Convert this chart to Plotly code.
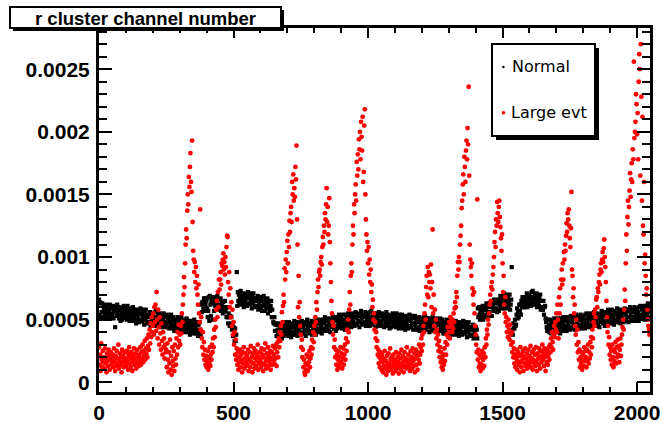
import plotly.graph_objects as go

# ---------------- data (values in units of 1e-5) ----------------
channels = list(range(0, 2048, 2))

normal_e5 = [
    66,54,64,52,63,56,63,56,52,59,61,54,57,62,51,59,55,61,52,57,62,51,59,55,53,
    54,61,51,57,59,44,60,56,53,62,55,58,51,60,53,49,58,56,50,59,54,61,52,57,51,
    59,54,50,61,52,57,55,49,59,52,57,50,55,60,49,53,58,50,55,47,58,53,51,56,49,
    48,55,59,50,54,49,58,52,55,46,56,50,58,52,48,54,47,54,52,48,56,45,55,50,53,
    54,47,52,45,56,49,57,50,45,52,54,47,50,55,44,52,48,53,45,50,55,44,52,48,46,
    47,54,44,50,52,43,52,48,45,54,47,50,43,52,45,41,50,48,42,50,45,52,43,48,42,
    50,45,41,52,43,48,46,40,50,43,48,41,46,51,40,44,49,41,46,38,49,44,42,47,40,
    39,46,50,41,44,39,48,42,46,37,46,40,48,42,38,62,56,64,63,59,67,57,67,62,65,
    66,59,52,57,68,49,69,62,53,65,67,50,63,68,57,65,61,67,59,64,69,58,66,62,60,
    60,67,57,62,64,55,64,60,56,65,57,59,52,60,52,47,55,52,45,53,47,52,42,45,37,
    44,38,33,43,33,38,88,61,72,65,70,63,68,73,62,65,70,63,68,60,71,66,64,69,62,
    61,68,72,63,67,62,71,65,68,59,69,63,71,65,61,67,60,67,65,61,69,58,68,63,66,
    67,60,65,57,68,61,69,62,57,64,66,59,62,67,55,63,59,65,57,61,65,52,58,52,48,
    47,52,41,46,47,37,46,42,38,47,40,43,37,46,39,35,45,43,37,46,41,48,39,44,38,
    46,41,37,48,39,44,42,36,47,40,45,38,44,49,38,42,47,40,45,37,48,43,41,46,39,
    38,45,49,40,44,39,48,42,46,37,47,41,50,44,40,46,39,47,45,41,49,38,48,43,46,
    47,40,45,38,49,42,50,43,40,47,49,42,45,50,39,47,43,50,42,47,52,41,49,45,43,
    44,51,41,47,49,40,50,46,44,53,46,49,43,52,45,41,50,49,43,52,47,54,45,50,44,
    52,47,43,54,45,50,48,42,54,47,52,45,50,55,44,48,53,47,52,44,55,50,48,53,46,
    45,52,56,47,51,46,55,49,53,44,54,48,57,51,47,53,46,54,52,48,56,45,55,50,53,
    54,47,52,45,56,49,57,50,46,53,55,48,50,55,44,52,48,54,46,51,56,45,53,49,47,
    48,55,45,51,53,44,54,50,47,56,49,52,45,54,47,43,52,50,44,53,48,55,46,51,45,
    53,48,44,55,46,51,49,43,54,47,52,45,49,54,43,47,52,45,50,42,53,48,46,51,44,
    43,50,54,45,49,44,53,47,51,42,52,46,53,47,43,49,42,50,48,44,52,41,51,46,49,
    50,43,48,41,52,45,53,46,42,49,51,44,46,51,40,48,44,50,42,47,52,41,49,45,43,
    44,51,41,47,49,40,50,46,42,51,44,47,41,50,43,39,48,45,39,48,43,50,41,46,40,
    48,43,39,50,41,46,44,38,49,42,47,40,44,49,38,42,47,40,45,37,48,43,41,46,39,
    38,45,49,40,44,39,48,42,45,36,46,40,48,42,38,44,37,44,42,38,46,35,45,40,43,
    44,37,42,35,59,52,60,54,50,57,59,52,55,61,50,58,54,60,52,58,63,52,60,56,54,
    56,63,53,60,62,53,63,60,57,66,59,63,57,66,59,56,65,63,57,66,62,69,60,65,59,
    68,63,59,71,62,67,65,59,70,62,67,60,65,70,58,62,66,92,42,38,47,43,43,50,45,
    46,54,59,51,56,52,62,57,62,54,65,60,68,63,60,66,60,68,66,63,71,60,70,66,69,
    70,63,68,61,72,65,73,66,62,68,70,63,66,71,60,68,63,69,61,66,70,58,65,60,58,
    58,65,54,60,61,51,48,44,41,50,43,46,40,50,43,39,48,46,40,49,44,51,42,47,41,
    49,44,40,51,42,47,45,39,51,44,49,42,47,52,41,45,50,44,49,41,52,47,45,50,43,
    42,49,53,44,48,43,52,46,51,42,52,46,54,48,44,50,43,52,50,46,54,43,53,48,51,
    52,45,50,43,54,47,55,48,44,51,53,46,50,55,44,52,48,54,46,51,56,45,53,49,47,
    48,55,45,51,53,44,54,50,48,57,50,53,47,56,49,45,54,53,47,56,51,58,49,54,48,
    56,51,47,58,49,54,52,46,57,50,55,48,54,59,48,52,57,50,55,47,58,53,51,56,49,
    48,55,59,50,54,49,58,52,57,48,58,52,60,54,50,56,49,58,56,52,60,49,59,54,57,
    58,51,56,49,60,53,61,54,51,58,60,53,56,61,50,58,55,61,53,58,63,52,60,56,
]

large_e5 = [
    28,14,22,9,31,18,12,25,16,20,11,27,15,19,8,23,17,13,26,21,10,18,24,14,19,
    16,22,12,27,18,9,21,15,25,13,19,30,11,17,23,14,20,8,26,16,21,12,18,24,15,
    19,13,25,17,10,22,28,15,20,12,24,18,9,21,16,27,14,19,23,11,18,26,15,20,13,
    22,17,28,14,24,19,30,16,25,21,33,18,27,23,35,20,29,38,26,42,31,47,36,52,40,
    45,55,38,60,48,62,41,72,50,35,58,44,30,52,39,26,47,33,22,40,28,35,19,30,24,
    26,12,31,18,8,24,15,34,10,21,6,28,17,13,25,9,30,19,14,35,22,40,28,46,33,
    38,30,45,39,55,48,62,70,84,76,95,110,122,115,137,150,142,164,156,172,183,160,152,193,128,
    105,98,88,96,80,92,75,85,70,62,78,55,48,138,42,52,35,28,40,22,32,18,26,14,21,
    12,17,25,10,20,15,28,13,22,18,30,24,35,28,42,36,50,44,58,65,52,72,60,82,74,
    82,88,78,95,93,98,103,90,96,86,100,92,108,117,116,80,70,88,60,75,52,64,45,58,38,
    48,30,40,22,34,18,27,14,24,10,20,16,26,12,22,18,8,24,15,28,11,19,23,13,17,
    21,14,26,9,18,24,12,29,16,20,8,23,15,27,11,19,25,13,22,17,30,10,20,15,24,
    18,12,27,15,22,9,20,26,14,31,17,11,23,19,28,13,21,16,25,10,19,24,14,29,18,
    22,15,27,19,30,13,24,32,20,35,28,40,33,45,38,56,48,61,70,64,91,82,98,88,104,
    113,95,118,108,129,120,135,140,128,160,150,166,145,155,148,172,162,189,130,110,60,85,52,64,45,
    38,28,34,20,26,12,18,8,6,15,10,22,14,9,20,16,25,12,19,28,22,34,27,40,32,
    45,38,52,48,64,58,72,82,76,88,90,85,96,100,94,108,116,110,125,120,135,130,142,155,128,
    140,118,125,147,112,95,80,65,55,48,38,45,28,34,20,26,14,22,10,18,25,12,20,15,28,
    16,23,11,19,27,14,22,30,18,35,25,42,32,50,40,58,72,62,85,95,88,110,125,118,142,
    135,150,158,145,176,165,182,170,194,186,200,178,208,196,185,212,160,168,205,218,150,130,118,105,112,
    95,108,86,98,80,90,72,78,60,66,50,55,42,48,35,40,28,33,22,26,15,20,12,24,18,
    10,22,16,8,19,13,25,11,17,6,21,14,9,23,15,12,27,18,10,20,14,7,22,16,12,
    18,9,24,14,11,20,16,7,23,13,19,10,26,15,12,21,8,17,24,13,19,11,28,16,14,
    22,12,18,9,25,15,20,11,27,17,13,23,8,19,26,14,21,10,24,18,30,15,22,28,35,
    25,38,30,45,40,55,62,50,76,85,70,92,68,88,80,86,75,94,60,80,122,55,70,45,58,
    40,50,35,42,30,38,25,33,20,28,16,24,12,19,10,22,14,27,17,32,22,38,30,44,36,
    40,48,35,52,44,46,40,50,43,55,48,59,64,60,72,68,85,96,90,100,96,110,117,125,139,
    145,158,166,150,180,172,160,185,193,178,203,190,236,165,110,98,92,85,95,75,70,62,72,55,45,
    38,30,24,146,18,26,12,22,15,9,20,14,25,11,18,23,13,28,20,35,30,42,38,50,46,
    55,62,70,65,76,80,74,86,92,100,112,120,108,130,125,144,135,128,140,145,132,124,115,105,118,
    95,72,85,62,55,68,48,52,40,45,36,50,42,34,46,38,30,40,24,32,20,27,15,22,12,
    19,26,10,17,24,14,21,8,28,16,12,22,18,25,9,20,15,27,13,19,23,11,17,26,14,
    21,16,29,12,19,24,10,18,26,15,22,13,28,17,9,23,19,14,27,20,11,25,16,21,30,
    18,24,13,27,20,9,22,16,25,14,21,28,18,30,24,35,28,40,32,26,38,45,36,48,42,
    55,40,62,50,35,68,55,75,62,82,90,78,95,82,104,98,110,105,117,127,120,135,130,138,125,
    115,108,123,152,90,85,68,75,55,62,45,38,50,30,42,24,32,18,26,12,20,15,24,10,18,
    22,13,28,17,25,20,12,26,18,30,15,24,19,32,22,36,28,42,35,48,55,45,58,52,66,
    68,60,75,72,80,86,78,90,95,88,98,104,96,107,114,100,92,80,65,52,40,45,30,36,22,
    28,18,25,14,30,20,12,26,17,24,32,15,28,20,34,22,29,16,26,35,21,30,38,44,50,
    42,58,74,65,95,118,105,132,145,126,140,153,167,148,162,175,160,186,178,256,195,200,208,230,222,
    198,215,178,240,262,250,165,270,228,145,212,125,118,160,95,102,85,70,75,58,50,45,42,38,
]

normal = [v * 1e-5 for v in normal_e5]
large = [v * 1e-5 for v in large_e5]

x_tickvals = [0, 500, 1000, 1500, 2000]
x_ticktext = ["0", "500", "1000", "1500", "2000"]
y_tickvals = [0, 0.0005, 0.001, 0.0015, 0.002, 0.0025]
y_ticktext = ["0", "0.0005", "0.001", "0.0015", "0.002", "0.0025"]
title_text = "r cluster channel number"
legend_labels = ["Normal", "Large evt"]
series_colors = ["#000000", "#ff0000"]

# ---------------- layout geometry ----------------
W, H = 662, 423
L, R, T, B = 99, 12, 28, 31
PW, PH = W - L - R, H - T - B


def px(x):
    return (x - L) / PW


def py(y):
    return (H - B - y) / PH


fig = go.Figure()
fig.add_trace(go.Scatter(
    x=channels, y=normal, mode="markers", name=legend_labels[0],
    marker=dict(symbol="square", size=4.2, color=series_colors[0], line=dict(width=0)),
    showlegend=False, hoverinfo="skip", cliponaxis=True))
fig.add_trace(go.Scatter(
    x=channels, y=large, mode="markers", name=legend_labels[1],
    marker=dict(symbol="circle", size=4.8, color=series_colors[1], line=dict(width=0)),
    showlegend=False, hoverinfo="skip", cliponaxis=True))

tick_font = dict(family="Liberation Sans, Arial", size=21, color="black", weight="bold")

common_axis = dict(
    showline=True, linewidth=3, linecolor="black", mirror="allticks",
    ticks="inside", tickwidth=2, tickcolor="black", automargin=False,
    showgrid=False, zeroline=False, tickfont=tick_font,
)

fig.update_xaxes(
    **common_axis, range=[0, 2048], tickmode="array",
    tickvals=x_tickvals, ticktext=x_ticktext, ticklen=10,
    ticklabelstandoff=0,
    minor=dict(tickmode="linear", tick0=0, dtick=100, ticks="inside",
               ticklen=5, tickwidth=2, tickcolor="black", showgrid=False),
)
fig.update_yaxes(
    **common_axis, range=[-0.0000775, 0.002829], tickmode="array",
    tickvals=y_tickvals, ticktext=y_ticktext, ticklen=13,
    ticklabelstandoff=2,
    minor=dict(tickmode="linear", tick0=0, dtick=0.0001, ticks="inside",
               ticklen=8, tickwidth=2, tickcolor="black", showgrid=False),
)

shapes = [
    # title box with shadow
    dict(type="rect", xref="paper", yref="paper", x0=px(13), x1=px(284), y0=py(31), y1=py(10),
         fillcolor="black", line=dict(width=0), layer="above"),
    dict(type="rect", xref="paper", yref="paper", x0=px(10), x1=px(281), y0=py(28), y1=py(7),
         fillcolor="white", line=dict(color="black", width=2), layer="above"),
    # legend box with shadow
    dict(type="rect", xref="paper", yref="paper", x0=px(496), x1=px(599), y0=py(140), y1=py(48),
         fillcolor="black", line=dict(width=0), layer="above"),
    dict(type="rect", xref="paper", yref="paper", x0=px(492), x1=px(595), y0=py(136), y1=py(44),
         fillcolor="white", line=dict(color="black", width=2), layer="above"),
    # legend markers
    dict(type="circle", xref="paper", yref="paper", x0=px(502.2), x1=px(504.6), y0=py(68.2), y1=py(65.8),
         fillcolor=series_colors[0], line=dict(width=0), layer="above"),
    dict(type="circle", xref="paper", yref="paper", x0=px(501.7), x1=px(505.3), y0=py(114.5), y1=py(110.9),
         fillcolor=series_colors[1], line=dict(width=0), layer="above"),
]

annotations = [
    dict(text="<b>" + title_text + "</b>", xref="paper", yref="paper",
         x=px(145.5), y=py(18.5), xanchor="center", yanchor="middle", showarrow=False,
         font=dict(family="Liberation Sans, Arial", size=18.5, color="black")),
    dict(text=legend_labels[0], xref="paper", yref="paper",
         x=px(510), y=py(67), xanchor="left", yanchor="middle", showarrow=False,
         font=dict(family="DejaVu Sans", size=16, color="black")),
    dict(text=legend_labels[1], xref="paper", yref="paper",
         x=px(509), y=py(113), xanchor="left", yanchor="middle", showarrow=False,
         font=dict(family="DejaVu Sans", size=16, color="black")),
]

fig.update_layout(
    template="none",
    width=W, height=H, autosize=False,
    margin=dict(l=L, r=R, t=T, b=B, pad=0),
    paper_bgcolor="white", plot_bgcolor="white",
    shapes=shapes, annotations=annotations, showlegend=False,
)

fig.write_html(
    "out.html",
    config={"displayModeBar": False},
    post_script="document.body.style.margin='0px';document.body.style.overflow='hidden';",
)
